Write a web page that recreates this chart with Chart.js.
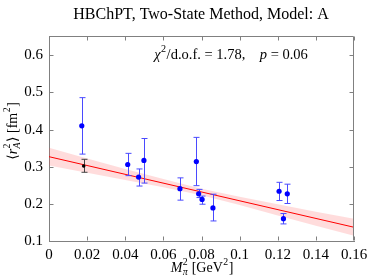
<!DOCTYPE html>
<html><head><meta charset="utf-8">
<script src="https://cdn.jsdelivr.net/npm/chart.js@4/dist/chart.umd.min.js"></script>
<style>html,body{margin:0;padding:0;background:#fff}#wrap{width:374px;height:280px}</style>
</head><body><div id="wrap"><canvas id="c" width="374" height="280"></canvas></div>
<script>
// ---- data ----
const xTicks = [0, 0.02, 0.04, 0.06, 0.08, 0.10, 0.12, 0.14, 0.16];
const yTicks = [0.1, 0.2, 0.3, 0.4, 0.5, 0.6];

const latX  = [0.0172, 0.0413, 0.0470, 0.0498, 0.0687, 0.0773, 0.0785, 0.0803, 0.0860, 0.1207, 0.1230, 0.1250];
const latY  = [0.410, 0.306, 0.272, 0.317, 0.241, 0.314, 0.227, 0.212, 0.189, 0.234, 0.160, 0.227];
const latHi = [0.486, 0.336, 0.294, 0.376, 0.270, 0.379, 0.239, 0.221, 0.226, 0.258, 0.174, 0.253];
const latLo = [0.334, 0.276, 0.248, 0.256, 0.210, 0.249, 0.217, 0.199, 0.154, 0.209, 0.146, 0.201];

const physX  = [0.0182];
const physY  = [0.302];
const physHi = [0.320];
const physLo = [0.285];

const fitX = [0, 0.16];
const fitY = [0.327, 0.137];

const bandX  = [0, 0.02, 0.04, 0.06, 0.08, 0.10, 0.12, 0.14, 0.16];
const bandHi = [0.351, 0.322, 0.294, 0.267, 0.241, 0.219, 0.199, 0.179, 0.160];
const bandLo = [0.303, 0.284, 0.264, 0.245, 0.223, 0.197, 0.169, 0.141, 0.114];

const FONT = "'Liberation Serif', 'DejaVu Serif', serif";
const FS = 14;
const TFS = 15;

function pts(xs, ys){ return xs.map((x,i)=>({x:x, y:ys[i]})); }

function richWidth(ctx, parts, fs){
  let w = 0;
  for (const p of parts){
    if (p.both){
      ctx.font = (fs*0.7)+"px "+FONT;
      const a = ctx.measureText(p.both[0]).width;
      ctx.font = (p.subIt?'italic ':'')+(fs*0.7)+"px "+FONT;
      const b = ctx.measureText(p.both[1]).width;
      w += Math.max(a,b)+1;
    } else {
      const s = (p.sup||p.sub)?fs*0.7:fs;
      ctx.font = (p.it?'italic ':'')+s+"px "+FONT;
      w += ctx.measureText(p.t).width + (p.sup||p.sub?1:0);
    }
  }
  return w;
}
function drawRich(ctx, cx, cy, parts, fs){
  const w = richWidth(ctx, parts, fs);
  let x = cx - w/2;
  ctx.textBaseline = 'middle';
  ctx.textAlign = 'left';
  ctx.fillStyle = '#000';
  for (const p of parts){
    if (p.both){
      ctx.font = (fs*0.7)+"px "+FONT;
      ctx.fillText(p.both[0], x+0.5, cy - fs*0.38);
      const a = ctx.measureText(p.both[0]).width;
      ctx.font = (p.subIt?'italic ':'')+(fs*0.7)+"px "+FONT;
      ctx.fillText(p.both[1], x+0.5, cy + fs*0.3);
      const b = ctx.measureText(p.both[1]).width;
      x += Math.max(a,b)+1;
    } else {
      const s = (p.sup||p.sub)?fs*0.7:fs;
      ctx.font = (p.it?'italic ':'')+s+"px "+FONT;
      const dy = p.sup ? -fs*0.38 : (p.sub ? fs*0.3 : 0);
      ctx.fillText(p.t, x+(p.sup||p.sub?0.5:0), cy+dy);
      x += ctx.measureText(p.t).width + (p.sup||p.sub?1:0);
    }
  }
}

function errBars(ctx, xs, s, xs_, hi, lo, color, cap){
  ctx.save();
  ctx.strokeStyle = color; ctx.lineWidth = 1;
  for (let i=0;i<xs_.length;i++){
    const px = Math.round(xs.getPixelForValue(xs_[i]))+0.5;
    const y1 = s.getPixelForValue(hi[i]), y2 = s.getPixelForValue(lo[i]);
    ctx.beginPath();
    ctx.moveTo(px, y1); ctx.lineTo(px, y2);
    ctx.moveTo(px-cap, y1); ctx.lineTo(px+cap, y1);
    ctx.moveTo(px-cap, y2); ctx.lineTo(px+cap, y2);
    ctx.stroke();
  }
  ctx.restore();
}

const decor = {
  id: 'decor',
  beforeDatasetDraw(chart, args){
    if (args.index !== 1) return;
    const ctx = chart.ctx, xs = chart.scales.x, ys = chart.scales.y;
    errBars(ctx, xs, ys, latX, latHi, latLo, '#4a4aff', 3);
    errBars(ctx, xs, ys, physX, physHi, physLo, '#444444', 3);
  },
  afterDraw(chart){
    const ctx = chart.ctx, a = chart.chartArea, xs = chart.scales.x, ys = chart.scales.y;
    ctx.save();
    ctx.strokeStyle = '#808080'; ctx.lineWidth = 1;
    ctx.beginPath();
    const L = Math.round(a.left)+0.5, R = Math.round(a.right)-0.5, T = Math.round(a.top)+0.5, B = Math.round(a.bottom)-0.5;
    ctx.moveTo(L, T); ctx.lineTo(R, T); ctx.lineTo(R, B);
    const tl = 4;
    for (const v of xTicks){
      const px = Math.round(xs.getPixelForValue(v))+0.5;
      ctx.moveTo(px, B); ctx.lineTo(px, B-tl);
      ctx.moveTo(px, T); ctx.lineTo(px, T+tl);
    }
    for (const v of yTicks){
      const py = Math.round(ys.getPixelForValue(v))+0.5;
      ctx.moveTo(L, py); ctx.lineTo(L+tl, py);
      ctx.moveTo(R, py); ctx.lineTo(R-tl, py);
    }
    ctx.stroke();
    ctx.fillStyle = '#000';
    ctx.font = "16px "+FONT;
    ctx.textAlign = 'center'; ctx.textBaseline = 'middle';
    ctx.fillText('HBChPT, Two-State Method, Model: A', 201, 15);
    drawRich(ctx, 231, 55, [
      {t:'χ', it:true}, {t:'2', sup:true}, {t:'/d.o.f. = 1.78,'}, {t:'    '},
      {t:'p', it:true}, {t:' = 0.06'}
    ], 14.5);
    drawRich(ctx, 202, 268, [
      {t:'M', it:true}, {both:['2','π'], subIt:true}, {t:' [GeV'}, {t:'2', sup:true}, {t:']'}
    ], FS);
    ctx.save();
    ctx.translate(13, 131);
    ctx.rotate(-Math.PI/2);
    drawRich(ctx, 0, 0, [
      {t:'⟨'}, {t:'r', it:true}, {both:['2','A'], subIt:true}, {t:'⟩ [fm'}, {t:'2', sup:true}, {t:']'}
    ], FS);
    ctx.restore();
    ctx.restore();
  }
};

new Chart(document.getElementById('c'), {
  type: 'scatter',
  data: { datasets: [
    { data: pts(latX, latY), backgroundColor: '#0000ff', borderColor: '#0000ff', pointRadius: 2.6, pointBorderWidth: 0 },
    { data: pts(physX, physY), backgroundColor: '#000', borderColor: '#000', pointRadius: 1.8, pointBorderWidth: 0 },
    { data: pts(fitX, fitY), showLine: true, borderColor: '#ff0000', borderWidth: 1, pointRadius: 0, fill: false },
    { data: pts(bandX, bandHi), showLine: true, borderWidth: 0, borderColor: 'rgba(0,0,0,0)', pointRadius: 0,
      backgroundColor: 'rgba(255,80,80,0.2)', fill: '+1' },
    { data: pts(bandX, bandLo), showLine: true, borderWidth: 0, borderColor: 'rgba(0,0,0,0)', pointRadius: 0, fill: false }
  ]},
  options: {
    responsive: false, animation: false, devicePixelRatio: 1,
    layout: { padding: { left: 0, top: 36, right: 20, bottom: 0 } },
    plugins: { legend: { display: false }, tooltip: { enabled: false } },
    scales: {
      x: {
        type: 'linear', min: 0, max: 0.16,
        afterBuildTicks: s => { s.ticks = xTicks.map(v => ({value: v})); },
        afterFit: s => { s.height = 39; },
        grid: { display: false, drawTicks: false },
        border: { display: true, color: '#808080', width: 1 },
        ticks: { padding: 5, color: '#000', font: { family: FONT, size: TFS }, maxRotation: 0,
                 callback: v => String(+(+v).toFixed(2)) }
      },
      y: {
        type: 'linear', min: 0.1, max: 0.652,
        afterBuildTicks: s => { s.ticks = yTicks.map(v => ({value: v})); },
        afterFit: s => { s.width = 49; },
        grid: { display: false, drawTicks: false },
        border: { display: true, color: '#808080', width: 1 },
        ticks: { padding: 6, color: '#000', font: { family: FONT, size: TFS },
                 callback: v => String(+(+v).toFixed(1)) }
      }
    }
  },
  plugins: [decor]
});
</script>
</body></html>
